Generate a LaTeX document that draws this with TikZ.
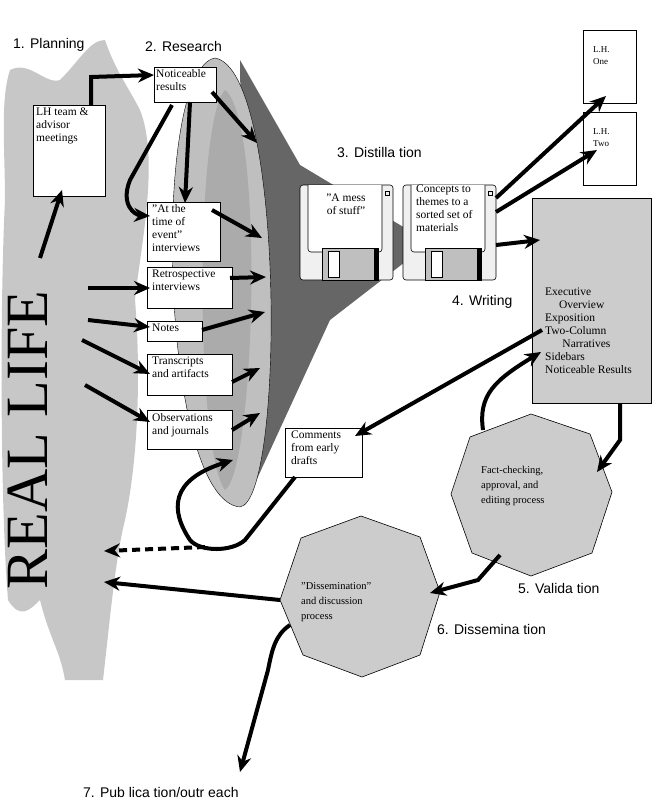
\documentclass[tikz,border=0pt]{standalone}
\usepackage{fontspec}
\setmainfont{Liberation Serif}
\newfontfamily\lab{Liberation Sans}
\usetikzlibrary{arrows.meta}
\begin{document}
\begin{tikzpicture}[x=1pt,y=-1pt,
 box/.style={draw,fill=white,line width=0.7pt,inner sep=0pt},
 btxt/.style={align=left,anchor=north west,inner sep=0pt,font=\fontsize{11.5}{13}\selectfont},
 lbl/.style={anchor=west,inner sep=0pt,font=\lab\fontsize{14}{16}\selectfont},
 arr/.style={line width=4pt,-{Stealth[length=16pt,width=14pt]}},
 oct/.style={draw,fill=black!20,line width=0.6pt}]
\useasboundingbox (0,0) rectangle (651,811);
% real life cloud
\fill[black!22] (10,70) .. controls (30,60) and (45,85) .. (60,80) .. controls (80,60) and (90,40) .. (105,40)
 .. controls (115,70) and (130,90) .. (140,110) .. controls (160,160) and (140,250) .. (135,300)
 .. controls (140,360) and (140,450) .. (125,520) .. controls (115,560) and (110,620) .. (103,680)
 -- (65,680) .. controls (60,650) and (50,640) .. (40,600) .. controls (30,610) and (20,620) .. (8,600)
 .. controls (0,500) and (0,300) .. (5,200) .. controls (5,150) and (0,100) .. (10,70) -- cycle;
\node[rotate=90,font=\fontsize{60}{60}\selectfont,inner sep=0pt,text=black] (rl) at (28,440) {REAL LIFE};
% funnel cone
\fill[black!60] (240,60) -- (300,165) -- (405,228) -- (405,262) -- (330,320) -- (245,505) -- cycle;
\fill[black!25,draw=black,line width=0.4pt] (215,58) .. controls (150,70) and (160,500) .. (240,507)
 .. controls (285,500) and (285,70) .. (215,58) -- cycle;
\fill[black!33] (225,90) .. controls (195,120) and (195,450) .. (225,490) .. controls (255,470) and (265,120) .. (225,90) -- cycle;
% labels
\node[lbl] (l1) at (13,45) {1. Planning};
\node[lbl] (l2) at (145,46) {2. Research};
\node[lbl] (l3) at (337,152) {3. Distilla tion};
\node[lbl] (l4) at (452,302) {4. Writing};
\node[lbl] (l5) at (518,588) {5. Valida tion};
\node[lbl] (l6) at (437,629) {6. Dissemina tion};
\node[lbl] (l7) at (83,792) {7. Pub lica tion/outr each};
% boxes
\draw[box] (33,105) rectangle (105,196); \node[btxt] (lh) at (36,108) {LH team \&\\advisor\\meetings};
\draw[box] (154,67) rectangle (216,102); \node[btxt] (nr) at (156,69) {Noticeable\\results};
\draw[box] (147,202) rectangle (220,261); \node[btxt] (at) at (152,204) {"At the\\time of\\event"\\interviews};
\draw[box] (147,267) rectangle (232,308); \node[btxt] (re) at (152,270) {Retrospective\\interviews};
\draw[box] (147,321) rectangle (202,341); \node[btxt] (no) at (152,324) {Notes};
\draw[box] (147,354) rectangle (232,395); \node[btxt] (tr) at (152,357) {Transcripts\\and artifacts};
\draw[box] (147,410) rectangle (232,449); \node[btxt] (ob) at (152,413) {Observations\\and journals};
\draw[box] (285,428) rectangle (362,477); \node[btxt] (co) at (291,431) {Comments\\from early\\drafts};
\draw[box] (583,30) rectangle (636,103); \node[btxt,font=\fontsize{9}{12}\selectfont] (h1) at (593,46) {L.H.\\One};
\draw[box] (583,112) rectangle (636,185); \node[btxt,font=\fontsize{9}{12}\selectfont] (h2) at (593,128) {L.H.\\Two};
\draw[fill=black!20,line width=0.7pt] (532,198) rectangle (651,403);
\node[btxt] (wr) at (545,288) {Executive\\\hspace*{1.2em}Overview\\Exposition\\Two-Column\\\hspace*{1.5em}Narratives\\Sidebars\\Noticeable Results};
% floppies
\foreach \x in {300,403}{
 \draw[fill=black!6,line width=0.6pt,rounded corners=3pt] (\x,185) rectangle ++(93,95);
 \draw[fill=white,line width=0.6pt,rounded corners=3pt] (\x+8,185) -- (\x+8,252) -- (\x+82,252) -- (\x+82,185);
 \draw[fill=black!25,line width=0.6pt] (\x+22,248) rectangle (\x+78,280);
 \draw[fill=white] (\x+28,251) rectangle (\x+39,277);
 \fill (\x+74,248) rectangle (\x+79,280);
 \draw (\x+85,191) rectangle (\x+89,195);
}
\node[btxt,align=center,anchor=north] (ms) at (346,194) {"A mess\\of stuff"};
\node[btxt] (cc) at (416,185) {Concepts to\\themes to a\\sorted set of\\materials};
% octagons
\draw[oct] (531,414) -- (590,434) -- (612,492) -- (592,553) -- (531,576) -- (472,553) -- (451,494) -- (470,437) -- cycle;
\node[btxt,font=\fontsize{10.5}{15}\selectfont] (fc) at (481,466) {Fact-checking,\\approval, and\\editing process};
\draw[oct] (361,516) -- (420,537) -- (440,592) -- (420,655) -- (362,677) -- (303,655) -- (280,600) -- (301,538) -- cycle;
\node[btxt,font=\fontsize{10.5}{15}\selectfont] (ds) at (301,582) {"Dissemination"\\and discussion\\process};
% arrows
\draw[arr] (40,258) -- (62,190);
\draw[arr] (91,105) -- (91,77) -- (154,75);
\draw[arr] (88,288) -- (150,288);
\draw[arr] (88,320) -- (150,327);
\draw[arr] (82,340) -- (150,374);
\draw[arr] (85,385) -- (150,422);
\draw[arr] (212,92) -- (257,143);
\draw[arr] (190,102) -- (185,203);
\draw[arr] (172,105) -- (130,180) .. controls (120,205) and (135,215) .. (150,216);
\draw[arr] (212,210) -- (262,238);
\draw[arr] (230,278) -- (266,277);
\draw[arr] (202,330) -- (265,312);
\draw[arr] (232,382) -- (260,368);
\draw[arr] (232,430) -- (260,413);
\draw[arr] (496,198) -- (606,96);
\draw[arr] (496,212) -- (597,150);
\draw[arr] (496,245) -- (540,240);
\draw[arr] (542,330) -- (355,436);
\draw[arr] (483,430) .. controls (478,395) and (495,380) .. (541,352);
\draw[arr] (620,403) -- (620,440) -- (597,472);
\draw[arr] (500,555) -- (478,580) -- (430,593);
\draw[arr] (280,600) -- (104,582);
\draw[arr] (290,625) .. controls (275,635) and (272,650) .. (268,670) -- (240,772);
\draw[arr] (295,477) -- (245,540) .. controls (232,552) and (200,552) .. (190,540) .. controls (170,510) and (170,480) .. (233,460);
\draw[line width=4pt,dash pattern=on 8pt off 5pt,-{Stealth[length=16pt,width=14pt]}] (205,547) -- (104,551);
\end{tikzpicture}
\end{document}
